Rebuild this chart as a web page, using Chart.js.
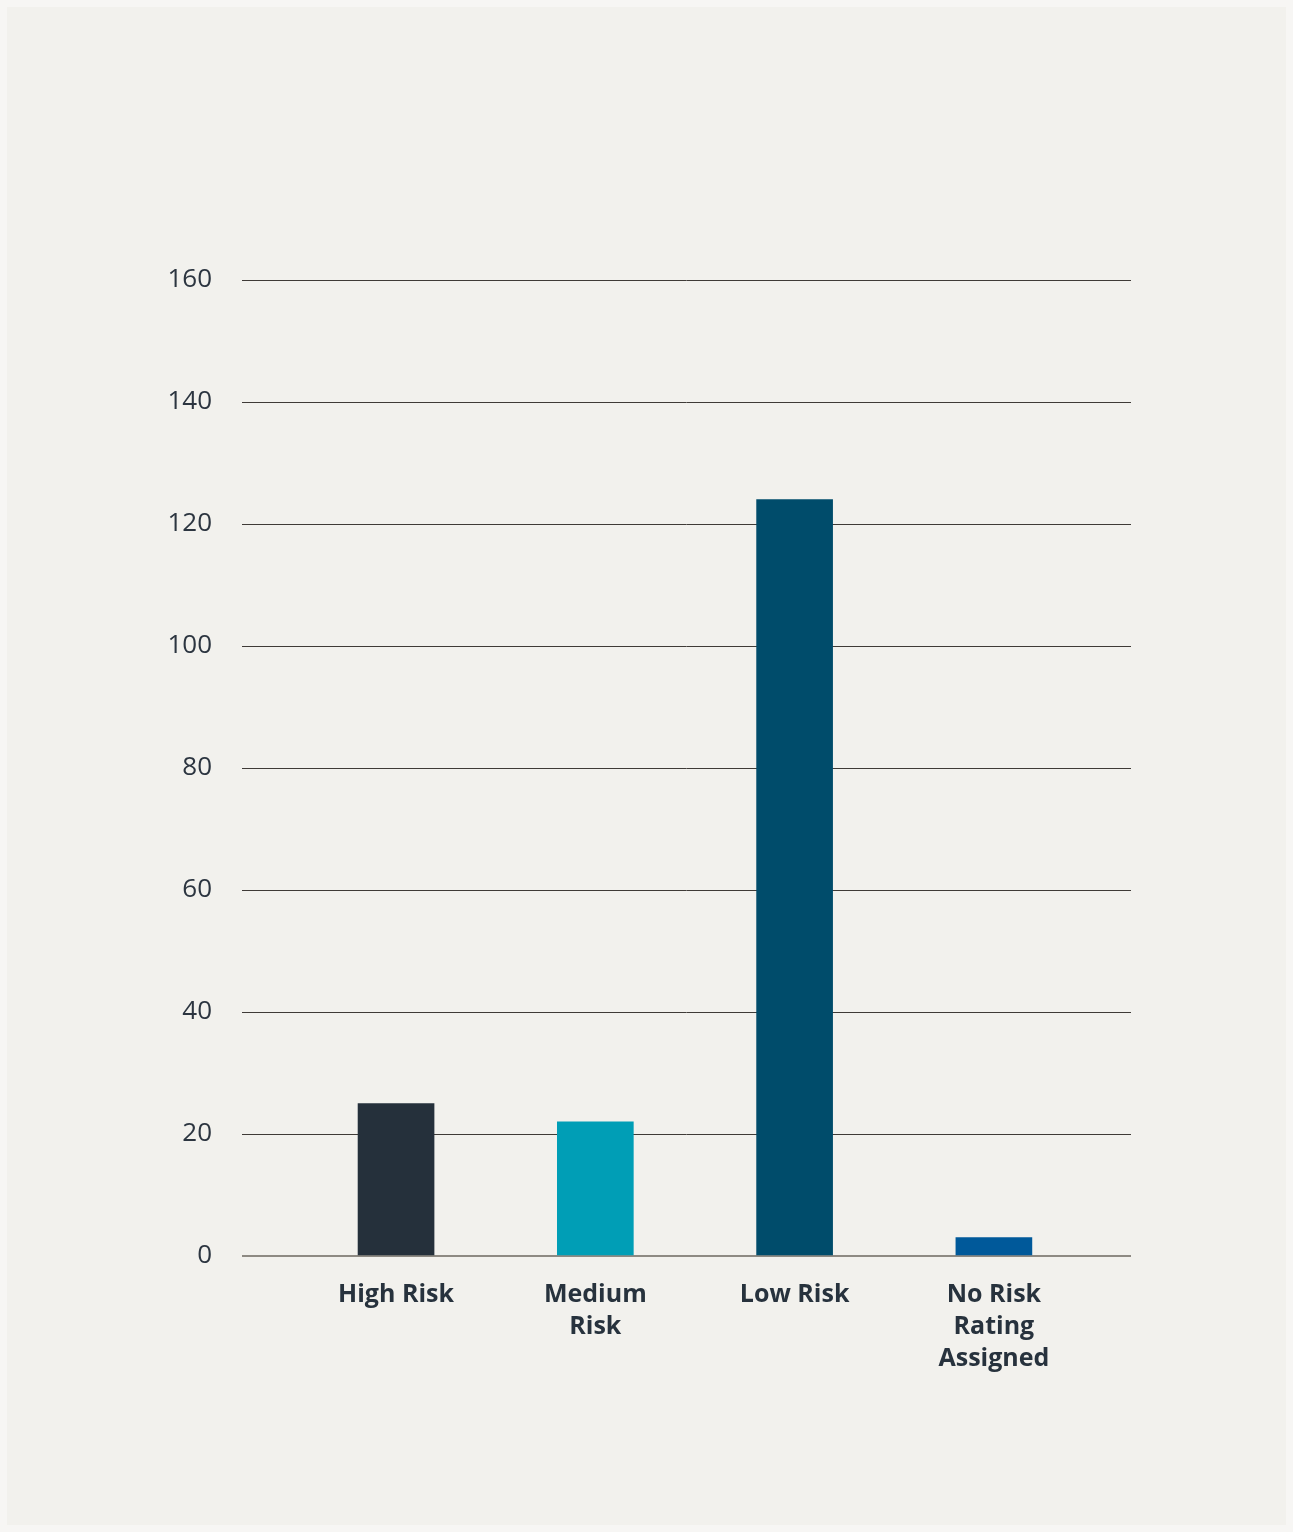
<!DOCTYPE html>
<html>
<head>
<meta charset="utf-8">
<script src="https://cdn.jsdelivr.net/npm/chart.js@4.4.1/dist/chart.umd.min.js"></script>
<style>
    html, body {
        margin: 0;
        padding: 0;
        background: #f7f6f4;
    }
    #card {
        position: absolute;
        left: 7px;
        top: 7px;
        width: 1279px;
        height: 1518px;
        background: #f2f1ed;
    }
</style>
</head>
<body>
<div id="card">
    <canvas id="riskChart" width="1279" height="1518"></canvas>
</div>
<script>
// risk buckets and counts
const categories = ["High Risk", "Medium Risk", "Low Risk", "No Risk Rating Assigned"];
const tickLabels = [["High Risk"], ["Medium", "Risk"], ["Low Risk"], ["No Risk", "Rating", "Assigned"]];
const counts = [25, 22, 124, 3];
const barColors = ["#25303b", "#009eb6", "#004c6b", "#00599a"];
const yTicks = [0, 20, 40, 60, 80, 100, 120, 140, 160];

const ctx = document.getElementById('riskChart').getContext('2d');

const data = {
    datasets: [{
        label: 'Count',
        data: categories.map((c, i) => ({ x: i, y: counts[i] })),
        backgroundColor: barColors,
        borderWidth: 0,
        barThickness: 76
    }]
};

const config = {
    type: 'bar',
    data: data,
    options: {
        responsive: false,
        animation: false,
        layout: {
            padding: { top: 273, right: 155, bottom: 0, left: 0 }
        },
        plugins: {
            legend: { display: false },
            tooltip: { enabled: false }
        },
        scales: {
            x: {
                type: 'linear',
                offset: false,
                min: -0.773,
                max: 3.688,
                grid: { display: false, offset: false },
                border: { display: false },
                afterBuildTicks: (scale) => {
                    scale.ticks = categories.map((c, i) => ({ value: i }));
                },
                afterFit: (scale) => {
                    scale.height = 269;
                },
                ticks: {
                    autoSkip: false,
                    maxRotation: 0,
                    padding: 15,
                    color: '#27323d',
                    font: { family: "'Open Sans', sans-serif", size: 25, weight: 'bold', lineHeight: 1.28 },
                    callback: (value) => tickLabels[value]
                }
            },
            y: {
                min: 0,
                max: 160,
                afterBuildTicks: (scale) => {
                    scale.ticks = yTicks.map(v => ({ value: v }));
                },
                afterFit: (scale) => {
                    scale.width = 235;
                },
                grid: {
                    drawTicks: false,
                    color: (c) => c.tick && c.tick.value === 0 ? '#8e8a83' : '#3f3b37',
                    lineWidth: (c) => c.tick && c.tick.value === 0 ? 2 : 1
                },
                border: { display: false },
                ticks: {
                    padding: 30,
                    color: '#2c3540',
                    font: { family: "'Open Sans', sans-serif", size: 26 }
                }
            }
        }
    }
};

new Chart(ctx, config);
</script>
</body>
</html>
